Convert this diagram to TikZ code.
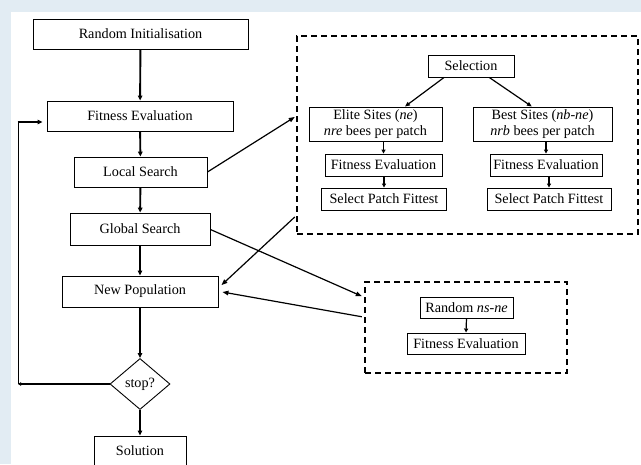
\documentclass[tikz,border=0pt]{standalone}
\usepackage{fontspec}
\setmainfont{Liberation Serif}
\usetikzlibrary{arrows.meta,shapes.geometric,calc}
\definecolor{wm}{RGB}{226,236,243}
\tikzset{
  box/.style={draw, line width=0.9pt, inner sep=0pt, align=center, font=\fontsize{14.2}{16}\selectfont},
  dbox/.style={draw, line width=2.4pt, dash pattern=on 6pt off 4pt, inner sep=0pt},
  mainarr/.style={line width=1.9pt, -{Triangle[length=5pt,width=4.5pt]}},
  inarr/.style={line width=1.7pt, -{Triangle[length=4pt,width=4pt]}},
  conn/.style={line width=1.2pt, -{Triangle[length=6pt,width=4.5pt]}},
}
\begin{document}
\begin{tikzpicture}[x=1pt,y=-1pt]
\useasboundingbox (0,0) rectangle (641,464);
\fill[wm] (0,0) rectangle (11,464);
\fill[wm] (0,0) rectangle (641,12);
% main column
\node[box, minimum width=215, minimum height=30] (ri) at (140.5,34) {Random Initialisation};
\node[box, minimum width=186, minimum height=30] (fe) at (140,116) {Fitness Evaluation};
\node[box, minimum width=133, minimum height=30] (ls) at (140.5,172) {Local Search};
\node[box, minimum width=140, minimum height=32] (gs) at (140,229) {Global Search};
\node[box, minimum width=156, minimum height=31] (np) at (140,291.5) {New Population};
\node[box, diamond, minimum width=60, minimum height=51] (stop) at (140,384) {stop?};
\node[box, minimum width=92, minimum height=30] (sol) at (140,451) {Solution};
% big dashed box
\node[dbox, minimum width=341, minimum height=198] (big) at (467.5,135) {};
\node[box, minimum width=86, minimum height=22] (sel) at (471,66) {Selection};
\node[box, minimum width=133, minimum height=34] (elite) at (375.5,124) {Elite Sites (\textit{ne})\\\textit{nre} bees per patch};
\node[box, minimum width=139, minimum height=34] (best) at (542.5,124) {Best Sites (\textit{nb}-\textit{ne})\\\textit{nrb} bees per patch};
\node[box, minimum width=117, minimum height=22] (fe1) at (383.5,165) {Fitness Evaluation};
\node[box, minimum width=125, minimum height=22] (sp1) at (384,199) {Select Patch Fittest};
\node[box, minimum width=112, minimum height=22] (fe2) at (546,165) {Fitness Evaluation};
\node[box, minimum width=124, minimum height=22] (sp2) at (549,199) {Select Patch Fittest};
% small dashed box
\node[dbox, minimum width=202, minimum height=91] (small) at (466,327.5) {};
\node[box, minimum width=93, minimum height=21] (rnd) at (466.5,307.5) {Random \textit{ns}-\textit{ne}};
\node[box, minimum width=118, minimum height=21] (fe3) at (466,343.5) {Fitness Evaluation};
% main arrows
\draw[mainarr] (ri) -- (fe);
\draw[mainarr] (fe) -- (ls);
\draw[mainarr] (ls) -- (gs);
\draw[mainarr] (gs) -- (np);
\draw[mainarr] (np) -- (stop);
\draw[mainarr] (stop) -- (sol);
% feedback loop
\coordinate (fbb) at (18,384);
\coordinate (fbt) at (18,122);
\draw[line width=1.9pt, -{Triangle[length=3pt,width=3.5pt]}] (stop.west) -- (fbb);
\draw[line width=1pt] (fbb) -- (fbt);
\draw[mainarr] ([xshift=-0.5pt]fbt) -- ([xshift=-4pt]fe.west |- fbt);
% inner arrows
\draw[line width=1.2pt, -{Triangle[length=5pt,width=4pt]}] ($(sel.south west)!0.19!(sel.south east)$) -- ($(elite.north west)!0.72!(elite.north east)$);
\draw[line width=1.2pt, -{Triangle[length=5pt,width=4pt]}] ($(sel.south west)!0.71!(sel.south east)$) -- ($(best.north west)!0.424!(best.north east)$);
\draw[inarr] (fe1.north |- elite.south) -- (fe1.north);
\draw[inarr] (fe1.south -| sp1.north) -- (sp1.north);
\draw[inarr] (fe2.north |- best.south) -- (fe2.north);
\draw[inarr] (fe2.south -| sp2.north) -- (sp2.north);
\draw[line width=1.2pt, -{Triangle[length=4pt,width=4pt]}] (rnd.south) -- (fe3.north);
% connectors
\draw[conn] (ls.east) -- ([xshift=-1pt]$(big.north west)!0.41!(big.south west)$);
\draw[conn, {Triangle[length=6pt,width=4.5pt]}-] ([xshift=3pt]$(np.north east)!0.3!(np.south east)$) -- ([xshift=-1pt]$(big.north west)!0.909!(big.south west)$);
\draw[conn] ([yshift=-0.5pt]gs.east) -- ([xshift=-2pt]$(small.north west)!0.165!(small.south west)$);
\draw[conn] ([xshift=-2pt]$(small.north west)!0.385!(small.south west)$) -- ([xshift=4pt]$(np.north east)!0.516!(np.south east)$);
\end{tikzpicture}
\end{document}
